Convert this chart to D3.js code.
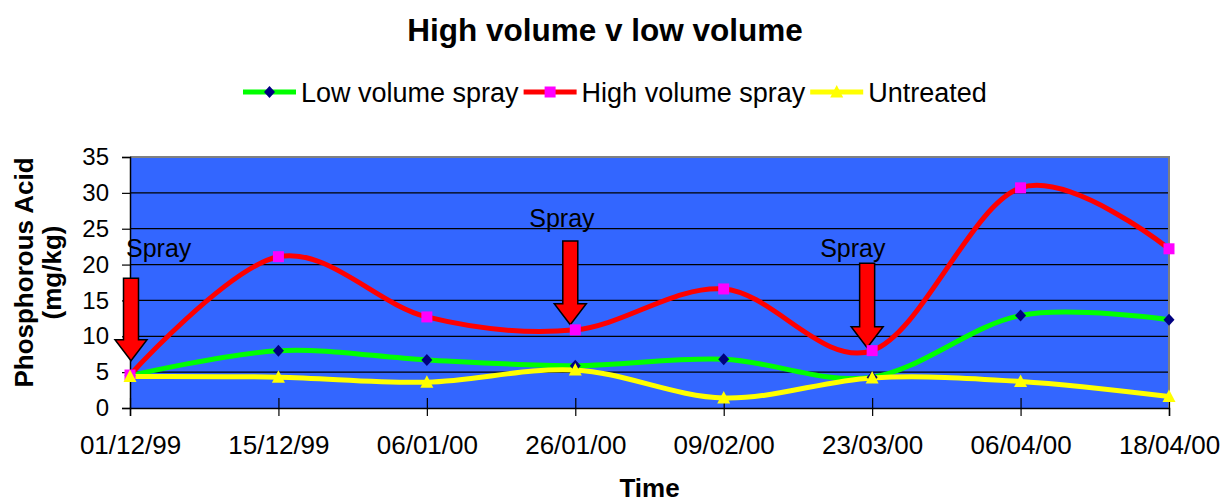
<!DOCTYPE html>
<html>
<head>
<meta charset="utf-8">
<script src="https://cdn.jsdelivr.net/npm/d3@7"></script>
<style>
  html, body { margin: 0; padding: 0; background: #fff; }
  svg { display: block; font-family: "Liberation Sans", Arial, sans-serif; }
</style>
</head>
<body>
<svg id="chart" width="1225" height="502"></svg>
<script>
// ---------- data ----------
const categories = ["01/12/99", "15/12/99", "06/01/00", "26/01/00", "09/02/00", "23/03/00", "06/04/00", "18/04/00"];
const lowVolume  = [4.5, 8.0, 6.7, 5.9, 6.8, 4.3, 12.9, 12.3];
const highVolume = [4.6, 21.1, 12.7, 10.9, 16.6, 8.0, 30.7, 22.2];
const untreated  = [4.4, 4.3, 3.6, 5.3, 1.4, 4.2, 3.7, 1.6];
const seriesNames = ["Low volume spray", "High volume spray", "Untreated"];
const yTickValues = [0, 5, 10, 15, 20, 25, 30, 35];
// spray annotations: category, arrow tip value, arrow top value, label value
const sprayCats   = ["01/12/99", "26/01/00", "23/03/00"];
const sprayTip    = [6.6, 11.6, 8.4];
const sprayTop    = [18.1, 23.3, 20.2];
const sprayLabelY = [21.1, 25.2, 21.1];

// ---------- layout ----------
const W = 1225, H = 502;
const plot = { left: 130, right: 1169, top: 157, bottom: 408 };
const svg = d3.select("#chart");

const x = d3.scalePoint().domain(categories).range([plot.left, plot.right]).padding(0);
const y = d3.scaleLinear().domain([0, 35]).range([plot.bottom, plot.top]);

// plot background
svg.append("rect")
  .attr("x", plot.left).attr("y", plot.top)
  .attr("width", plot.right - plot.left).attr("height", plot.bottom - plot.top)
  .attr("fill", "#3366FF");

// gridlines
svg.append("g").selectAll("line")
  .data(yTickValues.filter(v => v > 0 && v < 35))
  .join("line")
  .attr("x1", plot.left).attr("x2", plot.right)
  .attr("y1", d => y(d)).attr("y2", d => y(d))
  .attr("stroke", "#000").attr("stroke-width", 1.2);

// border top & right (grey)
svg.append("path")
  .attr("d", `M${plot.left},${plot.top}H${plot.right}V${plot.bottom}`)
  .attr("fill", "none").attr("stroke", "#808080").attr("stroke-width", 2);

// y axis
const yAxis = d3.axisLeft(y).tickValues(yTickValues).tickSize(8).tickPadding(13).tickFormat(d3.format("d"));
const gy = svg.append("g").attr("transform", `translate(${plot.left},0)`).call(yAxis);
gy.select(".domain").attr("stroke", "#000").attr("stroke-width", 1.5);
gy.selectAll(".tick line").attr("stroke", "#000").attr("stroke-width", 1.2);
gy.selectAll(".tick text").attr("font-size", 24).attr("fill", "#000")
  .attr("font-family", "Liberation Sans, Arial, sans-serif");

// x axis
const xAxis = d3.axisBottom(x).tickSize(8).tickPadding(20);
const gx = svg.append("g").attr("transform", `translate(0,${plot.bottom})`).call(xAxis);
gx.select(".domain").attr("stroke", "#000").attr("stroke-width", 1.5);
gx.selectAll(".tick line").attr("stroke", "#000").attr("stroke-width", 1.2).attr("y1", -10);
gx.selectAll(".tick text").attr("font-size", 26).attr("fill", "#000")
  .attr("font-family", "Liberation Sans, Arial, sans-serif");

// ---------- series ----------
const series = [
  { name: seriesNames[0], values: lowVolume,  line: "#00FF00", marker: "diamond",  mfill: "#000080" },
  { name: seriesNames[1], values: highVolume, line: "#FF0000", marker: "square",   mfill: "#FF00FF" },
  { name: seriesNames[2], values: untreated,  line: "#FFFF00", marker: "triangle", mfill: "#FFFF00" }
];

const lineGen = d3.line()
  .x((d, i) => x(categories[i]))
  .y(d => y(d))
  .curve(d3.curveCardinal.tension(0));

function markerPath(type) {
  if (type === "diamond") return "M0,-6L5.5,0L0,6L-5.5,0Z";
  if (type === "square") return "M-5.5,-5.5H5.5V5.5H-5.5Z";
  return "M0,-7L6.5,5.5L-6.5,5.5Z";
}

const lineLayer = svg.append("g");
const arrowLayer = svg.append("g");
const markerLayer = svg.append("g");

series.forEach(s => {
  lineLayer.append("path")
    .attr("d", lineGen(s.values))
    .attr("fill", "none")
    .attr("stroke", s.line)
    .attr("stroke-width", 5)
    .attr("stroke-linejoin", "round");
});

series.forEach(s => {
  markerLayer.append("g").selectAll("path")
    .data(s.values)
    .join("path")
    .attr("transform", (d, i) => `translate(${x(categories[i])},${y(d)})`)
    .attr("d", markerPath(s.marker))
    .attr("fill", s.mfill);
});

// ---------- spray arrows ----------
const shaftHalf = 7.5, headHalf = 16, headLen = 21;
sprayCats.forEach((c, i) => {
  const cx = x(c) + (i === 0 ? 1 : -5);
  const tip = y(sprayTip[i]);
  const top = y(sprayTop[i]);
  const hb = tip - headLen;
  const pts = [
    [cx - shaftHalf, top], [cx + shaftHalf, top], [cx + shaftHalf, hb],
    [cx + headHalf, hb], [cx, tip], [cx - headHalf, hb], [cx - shaftHalf, hb]
  ];
  arrowLayer.append("path")
    .attr("d", "M" + pts.map(p => p.join(",")).join("L") + "Z")
    .attr("fill", "#FF0000")
    .attr("stroke", "#000")
    .attr("stroke-width", 1.5)
    .attr("stroke-linejoin", "miter");
  arrowLayer.append("text")
    .attr("x", x(c) + [-4, -46, -52][i])
    .attr("y", y(sprayLabelY[i]))
    .attr("font-size", 25)
    .attr("fill", "#000")
    .text("Spray");
});

// ---------- titles ----------
svg.append("text")
  .attr("x", 605).attr("y", 41)
  .attr("text-anchor", "middle")
  .attr("font-size", 31.5).attr("font-weight", "bold")
  .text("High volume v low volume");

svg.append("text")
  .attr("x", (plot.left + plot.right) / 2).attr("y", 497)
  .attr("text-anchor", "middle")
  .attr("font-size", 26).attr("font-weight", "bold")
  .text("Time");

const yt = svg.append("text")
  .attr("transform", `translate(33,${(plot.top + plot.bottom) / 2 - 10}) rotate(-90)`)
  .attr("text-anchor", "middle")
  .attr("font-size", 26).attr("font-weight", "bold");
yt.append("tspan").attr("x", 0).attr("dy", 0).text("Phosphorous Acid");
yt.append("tspan").attr("x", 0).attr("dy", 28).text("(mg/kg)");

// ---------- legend ----------
const legend = svg.append("g");
let lx = 243;
const ly = 92;
series.forEach(s => {
  legend.append("line")
    .attr("x1", lx).attr("x2", lx + 53)
    .attr("y1", ly).attr("y2", ly)
    .attr("stroke", s.line).attr("stroke-width", 5);
  legend.append("path")
    .attr("transform", `translate(${lx + 26.5},${ly})`)
    .attr("d", markerPath(s.marker))
    .attr("fill", s.mfill);
  const t = legend.append("text")
    .attr("x", lx + 58).attr("y", ly + 9.5)
    .attr("font-size", 27)
    .text(s.name);
  lx = lx + 58 + t.node().getComputedTextLength() + 5;
});
</script>
</body>
</html>
